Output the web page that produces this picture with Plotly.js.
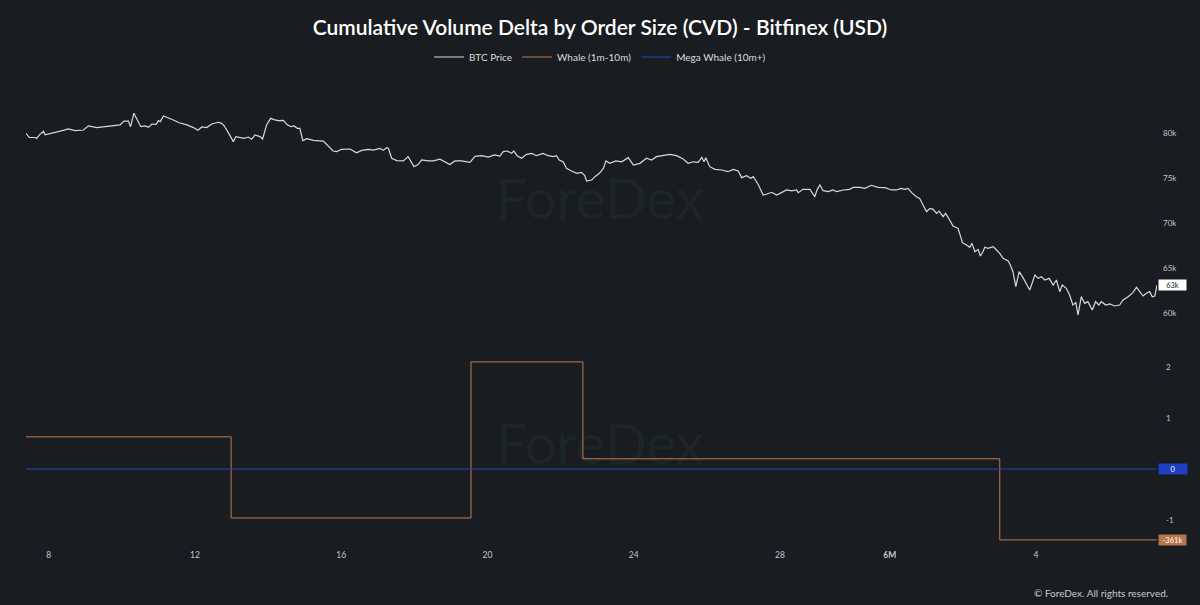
<!DOCTYPE html>
<html>
<head>
<meta charset="utf-8">
<script src="https://cdn.plot.ly/plotly-3.0.1.min.js"></script>
<style>
  html, body { margin: 0; padding: 0; background: #191c20; }
  #chart { width: 1200px; height: 605px; }
</style>
</head>
<body>
<div id="chart"></div>
<script>
// ---- Data (x = day position on the time axis) ----
const priceDays = [7.38,7.47,7.63,7.67,7.76,7.86,7.90,8.13,8.40,8.54,8.72,8.95,9.09,9.31,9.59,9.95,10.06,10.18,10.24,10.33,10.41,10.52,10.64,10.73,10.82,10.94,11.00,11.05,11.14,11.27,11.41,11.57,11.78,11.96,12.08,12.19,12.32,12.46,12.64,12.73,12.80,12.94,13.05,13.12,13.23,13.34,13.46,13.55,13.64,13.78,13.85,13.96,14.07,14.16,14.28,14.42,14.51,14.62,14.71,14.80,14.87,14.95,15.06,15.24,15.51,15.60,15.78,15.88,16.01,16.24,16.42,16.56,16.74,16.88,16.97,17.06,17.15,17.24,17.29,17.38,17.52,17.70,17.83,17.99,18.11,18.20,18.38,18.52,18.70,18.84,18.97,19.11,19.29,19.52,19.66,19.84,20.02,20.20,20.34,20.43,20.54,20.66,20.72,20.81,20.93,21.07,21.21,21.34,21.52,21.66,21.80,21.89,21.96,22.07,22.16,22.30,22.44,22.57,22.66,22.71,22.85,22.94,23.06,23.17,23.24,23.35,23.51,23.67,23.85,23.99,24.17,24.35,24.49,24.62,24.81,24.99,25.17,25.35,25.49,25.63,25.76,25.86,25.92,25.97,26.08,26.22,26.40,26.58,26.72,26.86,26.95,27.09,27.20,27.27,27.40,27.54,27.63,27.77,27.91,28.04,28.18,28.32,28.45,28.50,28.63,28.82,28.95,29.02,29.09,29.18,29.32,29.45,29.55,29.73,29.91,30.00,30.18,30.32,30.50,30.68,30.87,31.05,31.19,31.30,31.41,31.50,31.60,31.73,31.82,31.91,32.01,32.10,32.19,32.28,32.35,32.46,32.53,32.64,32.73,32.87,32.99,33.10,33.19,33.25,33.33,33.42,33.48,33.55,33.60,33.69,33.83,33.92,34.01,34.10,34.24,34.30,34.37,34.45,34.54,34.63,34.74,34.83,34.97,35.06,35.15,35.24,35.36,35.47,35.56,35.65,35.72,35.83,35.92,36.01,36.09,36.15,36.24,36.33,36.42,36.54,36.63,36.72,36.79,36.91,37.02,37.15,37.29,37.38,37.52,37.65,37.75,37.84,37.93,38.02,38.11,38.18,38.25,38.31];
const btcPriceK = [79.97,79.5,79.5,79.4,79.85,80.2,79.8,80.0,80.3,80.45,80.26,80.33,80.8,80.6,80.74,80.9,81.33,81.33,80.7,82.2,81.55,80.7,80.78,80.63,81.0,80.97,81.37,81.26,81.9,81.7,81.44,81.14,80.9,80.6,80.3,80.67,80.6,81.0,81.19,81.07,80.8,79.85,79.04,79.6,79.5,79.4,79.55,79.3,79.78,79.6,79.33,80.9,81.63,81.48,81.37,81.4,80.96,80.7,80.78,80.52,80.52,79.15,79.37,79.18,79.1,78.74,78.0,77.93,78.19,78.22,77.8,78.07,78.19,78.1,78.19,78.3,78.07,78.37,78.3,77.19,76.93,76.9,77.37,76.26,76.52,77.0,76.9,76.9,77.1,76.8,76.5,76.9,76.9,76.74,77.4,77.48,77.33,77.56,77.44,77.93,78.0,77.74,78.0,77.48,77.19,77.63,77.74,77.48,77.74,77.48,77.37,77.48,77.0,76.8,76.07,75.78,75.52,75.63,75.26,74.67,74.78,75.15,75.52,76.07,76.9,76.63,76.9,76.8,77.26,76.44,76.63,77.19,77.0,77.37,77.48,77.63,77.48,77.11,76.63,76.8,76.74,77.3,76.8,77.26,76.26,75.96,75.89,75.7,75.96,75.78,75.04,75.26,74.96,75.15,74.3,73.1,73.19,73.41,73.1,73.41,73.67,73.56,73.67,73.37,73.74,73.74,72.92,73.74,74.22,73.59,73.48,73.67,73.48,73.67,73.74,73.96,73.96,73.85,74.19,73.96,73.93,73.67,73.67,73.85,73.74,73.85,73.37,72.92,72.74,72.0,71.26,71.63,71.52,71.07,71.33,70.7,71.07,70.33,69.67,69.41,67.81,67.56,67.3,67.74,66.81,67.07,66.33,66.81,67.3,67.19,67.37,67.0,66.63,66.07,65.78,65.33,64.59,62.93,64.59,64.04,63.3,62.56,64.22,63.85,64.04,63.67,63.85,63.11,63.67,62.37,63.11,62.74,62.0,60.89,61.15,59.78,61.81,61.07,61.26,60.33,61.26,60.89,61.26,60.89,61.0,60.78,60.89,61.44,61.81,62.26,62.85,62.37,61.89,62.19,62.37,61.81,61.89,63.11];

const whaleDays = [7.38, 12.99, 19.55, 22.61, 34.01, 38.31];
const whaleCvd  = [0.63, -0.96, 2.10, 0.20, -1.39, -1.39];

const megaWhaleDays = [7.38, 38.31];
const megaWhaleCvd  = [0, 0];

const xTickVals   = [8, 12, 16, 20, 24, 28, 31, 35];
const xTickLabels = ['8', '12', '16', '20', '24', '28', '<b>6M</b>', '4'];
const priceTickVals   = [60, 65, 70, 75, 80];
const priceTickLabels = ['60k', '65k', '70k', '75k', '80k'];
const cvdTickVals   = [-1, 1, 2];
const cvdTickLabels = ['-1', '1', '2'];

const lastPriceLabel = '63k';
const lastWhaleLabel = '-361k';
const lastMegaLabel  = '0';

const watermarkText = 'ForeDex';

// ---- Styling ----
const BG = '#191c20';
const FONT = 'Lato, "Open Sans", sans-serif';
const PRICE_C = '#d9d9d9';
const WHALE_C = '#c27b4d';
const MEGA_C  = '#2747c4';
const WM_C = '#1c2624';

const xRange = [priceDays[0], priceDays[priceDays.length - 1]];
const yRangeTop = [58.111, 83.667];
const yRangeBot = [-1.549, 2.431];
const xMid = (xRange[0] + xRange[1]) / 2 + 0.22;

const traces = [
  // watermarks first so the data lines are drawn over them
  { x: [xMid], y: [72.0], type: 'scatter', mode: 'text', text: [watermarkText],
    textposition: 'middle center', textfont: { family: FONT, size: 56, color: WM_C },
    showlegend: false, hoverinfo: 'skip', cliponaxis: false, xaxis: 'x', yaxis: 'y' },
  { x: [xMid], y: [0.373], type: 'scatter', mode: 'text', text: [watermarkText],
    textposition: 'middle center', textfont: { family: FONT, size: 56, color: WM_C },
    showlegend: false, hoverinfo: 'skip', cliponaxis: false, xaxis: 'x2', yaxis: 'y2' },
  { x: priceDays, y: btcPriceK, type: 'scatter', mode: 'lines', name: 'BTC Price',
    line: { color: PRICE_C, width: 1.2 }, xaxis: 'x', yaxis: 'y' },
  { x: whaleDays, y: whaleCvd, type: 'scatter', mode: 'lines', name: 'Whale (1m-10m)',
    line: { color: WHALE_C, width: 1, shape: 'hv' }, xaxis: 'x2', yaxis: 'y2' },
  { x: megaWhaleDays, y: megaWhaleCvd, type: 'scatter', mode: 'lines', name: 'Mega Whale (10m+)',
    line: { color: MEGA_C, width: 1 }, xaxis: 'x2', yaxis: 'y2' }
];

const layout = {
  width: 1200, height: 605,
  paper_bgcolor: BG, plot_bgcolor: BG,
  font: { family: FONT, color: '#cfd2d6', size: 9 },
  margin: { l: 26, r: 43, t: 100, b: 57 },
  showlegend: true,
  title: { text: 'Cumulative Volume Delta by Order Size (CVD) - Bitfinex (USD)',
           font: { family: FONT, size: 21, color: '#ffffff', weight: 600 },
           x: 0.5, xref: 'container', xanchor: 'center',
           y: 1 - 28 / 605, yref: 'container', yanchor: 'middle' },
  legend: { orientation: 'h', x: 0.5, xref: 'container', xanchor: 'center',
            y: 1 - 57 / 605, yref: 'container', yanchor: 'middle',
            font: { family: FONT, size: 10, color: '#dcdcdc' },
            bgcolor: 'rgba(0,0,0,0)', itemwidth: 30 },
  xaxis: { domain: [0, 1], range: xRange, anchor: 'y', showticklabels: false,
           showgrid: false, zeroline: false, showline: false, ticks: '' },
  xaxis2: { domain: [0, 1], range: xRange, anchor: 'y2', matches: 'x',
            tickvals: xTickVals, ticktext: xTickLabels,
            tickfont: { size: 8.5, color: '#c4c7cb' },
            showgrid: false, zeroline: false, showline: false, ticks: '' },
  yaxis: { domain: [0.4866, 1], range: yRangeTop, side: 'right', anchor: 'x',
           tickvals: priceTickVals, ticktext: priceTickLabels,
           tickfont: { size: 8, color: '#c4c7cb' }, ticklabelstandoff: 5,
           showgrid: false, zeroline: false, showline: false, ticks: '' },
  yaxis2: { domain: [0, 0.4531], range: yRangeBot, side: 'right', anchor: 'x2',
            tickvals: cvdTickVals, ticktext: cvdTickLabels,
            tickfont: { size: 8, color: '#c4c7cb' }, ticklabelstandoff: 8,
            showgrid: false, zeroline: false, showline: false, ticks: '' },
  annotations: [
    { text: lastPriceLabel, xref: 'paper', yref: 'y', x: 1, xanchor: 'left', xshift: 1,
      y: btcPriceK[btcPriceK.length - 1], yanchor: 'middle', showarrow: false,
      bgcolor: '#ffffff', width: 25, height: 8, borderpad: 1,
      font: { size: 7.5, color: '#222222' } },
    { text: lastMegaLabel, xref: 'paper', yref: 'y2', x: 1, xanchor: 'left', xshift: 1,
      y: megaWhaleCvd[megaWhaleCvd.length - 1], yanchor: 'middle', showarrow: false,
      bgcolor: '#1f3fc2', width: 26, height: 8, borderpad: 1,
      font: { size: 7.5, color: '#ffffff' } },
    { text: lastWhaleLabel, xref: 'paper', yref: 'y2', x: 1, xanchor: 'left', xshift: 1,
      y: whaleCvd[whaleCvd.length - 1], yanchor: 'middle', showarrow: false,
      bgcolor: '#b8744a', width: 25, height: 8, borderpad: 1,
      font: { size: 7.5, color: '#ffffff' } },
    { text: '© ForeDex. All rights reserved.', xref: 'paper', yref: 'paper',
      x: 1.0115, xanchor: 'right', y: -0.1004, yanchor: 'middle', showarrow: false,
      font: { family: FONT, size: 10, color: '#c8cbcf' } }
  ]
};

Plotly.newPlot('chart', traces, layout, { staticPlot: true, displayModeBar: false });
</script>
</body>
</html>
